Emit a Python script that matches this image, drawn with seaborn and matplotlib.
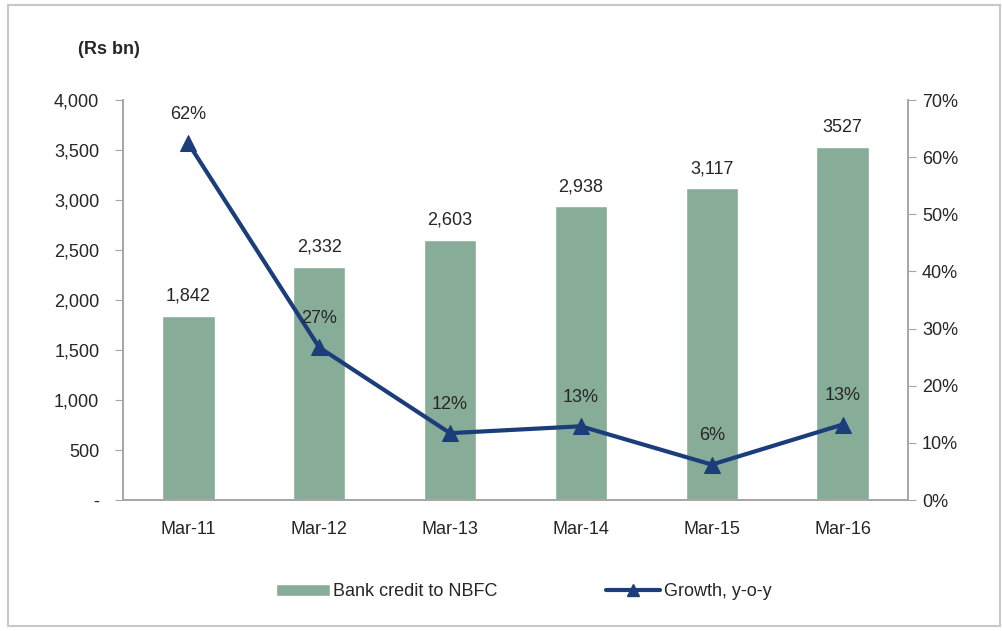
import numpy as np
import pandas as pd
import matplotlib
matplotlib.use("Agg")
import matplotlib.pyplot as plt
from matplotlib.patches import Rectangle
from matplotlib.lines import Line2D
from matplotlib.ticker import FuncFormatter
import seaborn as sns

# Data
periods = ["Mar-11", "Mar-12", "Mar-13", "Mar-14", "Mar-15", "Mar-16"]
credit = [1842, 2332, 2603, 2938, 3117, 3527]
credit_labels = ["1,842", "2,332", "2,603", "2,938", "3,117", "3527"]
growth = [62.4, 26.7, 11.7, 12.9, 6.2, 13.2]
growth_labels = ["62%", "27%", "12%", "13%", "6%", "13%"]

BAR_COLOR = "#87AD98"
LINE_COLOR = "#1B3D7A"
AXIS_GREY = "#A6A6A6"
TEXT = "#262626"
FS = 13

sns.set_style("white")
plt.rcParams["font.family"] = ["Liberation Sans", "DejaVu Sans"]

df = pd.DataFrame({"period": periods, "credit": credit, "growth": growth})

fig = plt.figure(figsize=(10.03, 6.31), dpi=100)
ax = fig.add_axes([0.1226, 0.2076, 0.7827, 0.6339])

sns.barplot(data=df, x="period", y="credit", color=BAR_COLOR,
            width=0.4, saturation=1, ax=ax)
ax.set_xlim(-0.5, len(periods) - 0.5)
ax.set_ylim(0, 4000)
ax.set_yticks(np.arange(0, 4001, 500))
ax.yaxis.set_major_formatter(
    FuncFormatter(lambda v, p: "-" if v == 0 else f"{int(v):,}"))
ax.set_xlabel("")
ax.set_ylabel("")

# bar value labels
for i, (v, lab) in enumerate(zip(credit, credit_labels)):
    ax.text(i, v + 110, lab, ha="center", va="bottom",
            fontsize=FS, color=TEXT)

ax2 = ax.twinx()
sns.lineplot(x=np.arange(len(periods)), y=growth, color=LINE_COLOR,
             lw=3, marker="^", markersize=11, markeredgecolor=LINE_COLOR,
             ax=ax2)
ax2.set_ylim(0, 70)
ax2.set_yticks(np.arange(0, 71, 10))
ax2.yaxis.set_major_formatter(FuncFormatter(lambda v, p: f"{int(v)}%"))

for i, (v, lab) in enumerate(zip(growth, growth_labels)):
    ax2.text(i, v + 3.6, lab, ha="center", va="bottom",
             fontsize=FS, color=TEXT)

# category boundary ticks on x axis
ax.set_xticks(np.arange(len(periods)))
ax.set_xticklabels(periods)
ax.set_xticks(np.arange(-0.5, len(periods), 1), minor=True)
ax.tick_params(axis="x", which="major", length=0, pad=15,
               labelsize=FS, labelcolor=TEXT)
ax.tick_params(axis="x", which="minor", length=6, color=AXIS_GREY,
               direction="out")
ax.tick_params(axis="y", length=6, color=AXIS_GREY, direction="out",
               labelsize=FS, labelcolor=TEXT, pad=11)
ax2.tick_params(axis="y", length=6, color=AXIS_GREY, direction="out",
                labelsize=FS, labelcolor=TEXT, pad=4)

for a in (ax, ax2):
    a.spines["top"].set_visible(False)
    for s in ("left", "right", "bottom"):
        a.spines[s].set_color(AXIS_GREY)
        a.spines[s].set_linewidth(1.2)
    a.grid(False)

fig.text(0.078, 0.921, "(Rs bn)", fontsize=FS, fontweight="bold",
         color=TEXT, va="center")

handles = [
    Rectangle((0, 0), 1, 1, facecolor=BAR_COLOR),
    Line2D([0], [0], color=LINE_COLOR, lw=3, marker="^", markersize=8),
]
fig.legend(handles, ["Bank credit to NBFC", "Growth, y-o-y"],
           loc="center", bbox_to_anchor=(0.522, 0.062), ncol=2,
           frameon=False, fontsize=FS, handlelength=3.0,
           handletextpad=0.2, columnspacing=6.0)

# light outer frame
fig.patches.append(Rectangle((0.008, 0.008), 0.989, 0.984,
                             transform=fig.transFigure, fill=False,
                             edgecolor="#C8C8C8", lw=1.5))

plt.savefig("out.png", dpi=100)
